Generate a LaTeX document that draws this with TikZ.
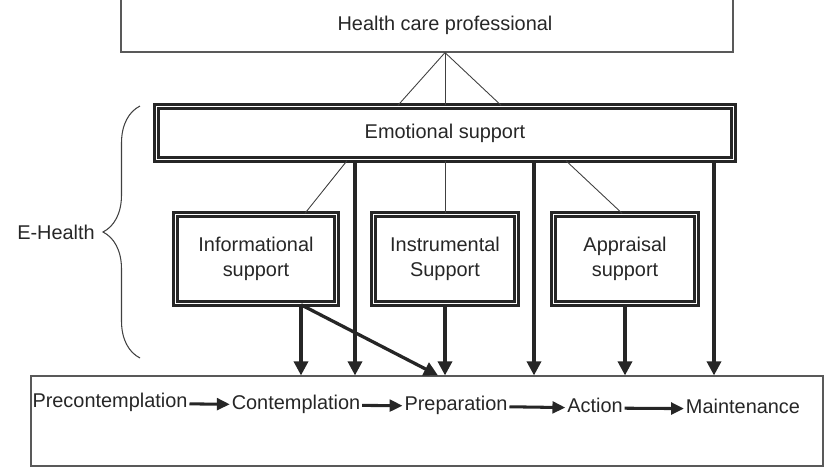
\documentclass[tikz,border=0pt]{standalone}
\usepackage{fontspec}
\setmainfont{Liberation Sans}
\usetikzlibrary{arrows.meta, calc, decorations.pathreplacing}
\colorlet{ink}{black!85}
\colorlet{edge}{black!65}

\begin{document}
\begin{tikzpicture}[
    x=0.03cm, y=-0.03cm,
    every node/.style = {font=\fontsize{17}{21}\selectfont, text=black!85},
    plain box/.style  = {draw=edge, line width=1pt},
    dbl box/.style    = {draw=ink, line width=2.4pt, double=white,
                         double distance=1.2pt, align=center},
    link/.style       = {draw=black!75, line width=0.75pt},
    arr/.style        = {-{Triangle[length=12pt, width=12pt]}, draw=ink,
                         line width=2.8pt},
    flow/.style       = {-{Triangle[length=11pt, width=10pt]}, draw=ink,
                         line width=2.6pt},
    stage/.style      = {inner sep=1.5pt, text height=12pt, text depth=3.5pt},
    brace line/.style = {draw=black!75, line width=0.9pt,
                         decoration={brace, amplitude=1.11cm}, decorate}
  ]
  \useasboundingbox (0,0) rectangle (824,468);

  \node[plain box, minimum width=18.36cm, minimum height=1.86cm,
        label={[xshift=0.54cm, yshift=-0.12cm]center:Health care professional}]
        (hcp) at (427,21) {};
  \node[dbl box, minimum width=17.30cm, minimum height=1.58cm]
        (emo) at (445,133) {Emotional support};
  \node[dbl box, minimum width=4.82cm, minimum height=2.66cm]
        (info) at (256,259) {Informational\\support};
  \node[dbl box, minimum width=4.28cm, minimum height=2.66cm]
        (instr) at (445,259) {Instrumental\\Support};
  \node[dbl box, minimum width=4.28cm, minimum height=2.66cm]
        (appr) at (625,259) {Appraisal\\support};
  \node[plain box, minimum width=23.76cm, minimum height=2.7cm]
        (stages) at (427,421) {};

  % stages of change
  \node[stage] (pre)  at (110,403) {Precontemplation};
  \node[stage] (con)  at (296,405) {Contemplation};
  \node[stage] (prep) at (456,406) {Preparation};
  \node[stage] (act)  at (595,408) {Action};
  \node[stage] (main) at (743,409) {Maintenance};
  \draw[flow] (pre)  -- (con);
  \draw[flow] (con)  -- (prep);
  \draw[flow] (prep) -- (act);
  \draw[flow] (act)  -- (main);

  % thin links
  \draw[link] (emo.north |- hcp.south) -- ($(emo.north)+(-47,0)$);
  \draw[link] (emo.north |- hcp.south) -- (emo.north);
  \draw[link] (emo.north |- hcp.south) -- ($(emo.north)+(56,0)$);
  \draw[link] ($(emo.south)+(-98,0)$) -- ($(info.north)+(49,0)$);
  \draw[link] (emo.south) -- (instr.north);
  \draw[link] ($(emo.south)+(121,0)$) -- ($(appr.north)+(-3,0)$);

  % arrows into the stages
  \draw[arr] ($(info.south)+(45,0)$) coordinate (i1) -- (i1 |- stages.north);
  \draw[arr] (i1) -- ($(instr.south |- stages.north)+(-7,0)$);
  \draw[arr] ($(emo.south)+(-90,0)$) coordinate (e1) -- (e1 |- stages.north);
  \draw[arr] (instr.south) -- (instr.south |- stages.north);
  \draw[arr] ($(emo.south)+(89,0)$) coordinate (e2) -- (e2 |- stages.north);
  \draw[arr] (appr.south) -- (appr.south |- stages.north);
  \draw[arr] ($(emo.south)+(269,0)$) coordinate (e3) -- (e3 |- stages.north);

  % e-health brace
  \node (ehealth) at (56,232) {E-Health};
  \draw[brace line] (140,358) -- (140,106);
\end{tikzpicture}
\end{document}
